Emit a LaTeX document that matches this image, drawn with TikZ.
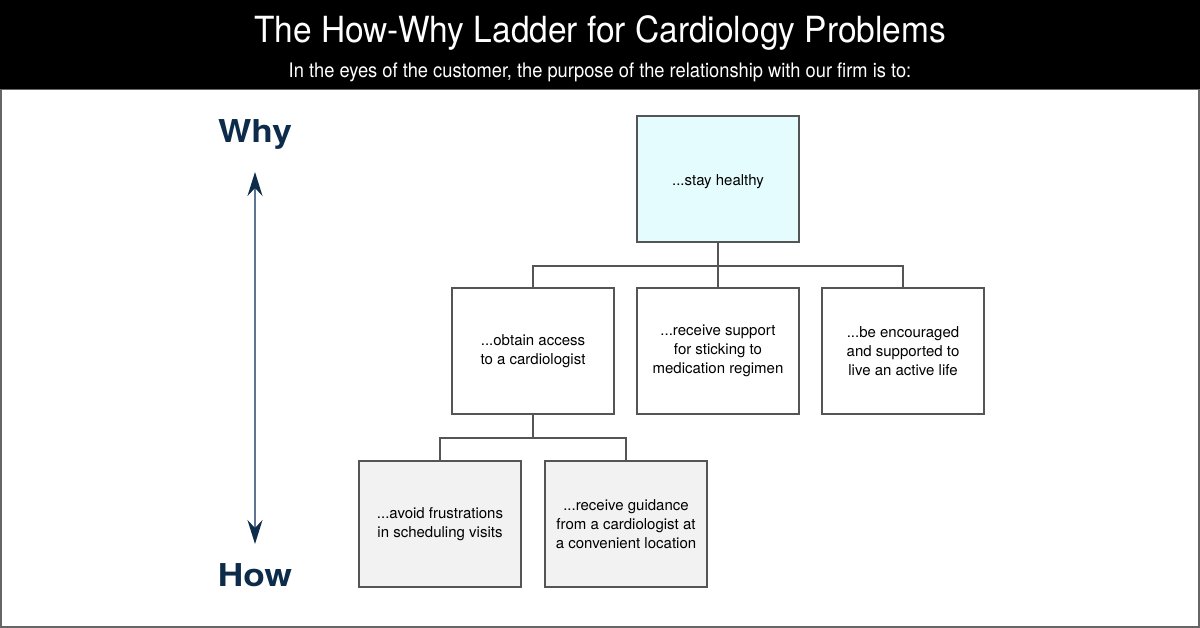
\documentclass[tikz,border=0pt]{standalone}
\usepackage{fontspec}
\setmainfont{TeX Gyre Heros}
\usetikzlibrary{arrows.meta}
\definecolor{navy}{HTML}{0D2B4A}
\definecolor{arrowc}{HTML}{5F7590}
\definecolor{topfill}{HTML}{E4FCFE}
\definecolor{lowfill}{HTML}{F2F2F2}
\definecolor{edge}{HTML}{555555}
\begin{document}
\begin{tikzpicture}[x=1pt,y=-1pt,
  box/.style={draw=edge,line width=1.5pt,minimum width=162pt,minimum height=126pt,align=center,inner sep=0pt,
    font=\fontsize{15}{19}\selectfont},
  conn/.style={draw=edge,line width=1.5pt},
  lbl/.style={text=navy,font=\fontsize{31.5}{36}\selectfont\bfseries}]
\useasboundingbox (0,0) rectangle (1200,628);
\fill[white] (0,0) rectangle (1200,628);
\draw[draw=gray!80!black,line width=2pt] (1,89) rectangle (1199,627);
\fill[black] (0,0) rectangle (1200,89);
\node[text=white,font=\fontsize{36}{40}\selectfont,inner sep=0pt] (title) at (600,33) {\scalebox{0.93}[1]{The How-Why Ladder for Cardiology Problems}};
\node[text=white,font=\fontsize{20}{22}\selectfont,inner sep=0pt] (sub) at (600,72) {\scalebox{0.915}[1]{In the eyes of the customer, the purpose of the relationship with our firm is to:}};
% boxes
\node[box,fill=topfill,label={[font=\fontsize{15}{19}\selectfont,yshift=-3pt]center:...stay healthy}] (top) at (718,179) {};
\node[box,fill=white] (m1) at (533,351) {...obtain access\\to a cardiologist};
\node[box,fill=white] (m2) at (718,351) {...receive support\\for sticking to\\medication regimen};
\node[box,fill=white] (m3) at (903,351) {...be encouraged\\and supported to\\live an active life};
\node[box,fill=lowfill] (b1) at (440,524) {...avoid frustrations\\in scheduling visits};
\node[box,fill=lowfill] (b2) at (626,524) {...receive guidance\\from a cardiologist at\\a convenient location};
% connectors
\coordinate (j1) at (718,266);
\coordinate (j2) at (533,438);
\draw[conn] (top.south) -- (j1);
\draw[conn] (m1.north) |- (j1) -| (m3.north);
\draw[conn] (j1) -- (m2.north);
\draw[conn] (m1.south) -- (j2);
\draw[conn] (b1.north) |- (j2) -| (b2.north);
% why/how
\node[lbl] (why) at (255,134) {\scalebox{1.12}[1]{Why}};
\node[lbl] (how) at (255,575) {\scalebox{1.12}[1]{How}};
\coordinate (up) at (255,172);
\coordinate (dn) at (255,544);
\draw[arrowc,line width=1.8pt,{Stealth[length=24pt,width=15pt,inset=8pt,color=navy]}-{Stealth[length=24pt,width=15pt,inset=8pt,color=navy]}] (up) -- (dn);
\end{tikzpicture}
\end{document}
